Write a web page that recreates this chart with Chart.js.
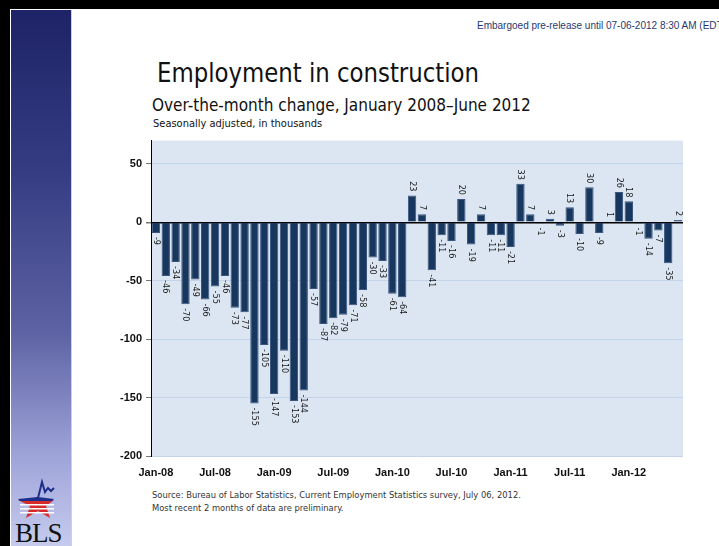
<!DOCTYPE html>
<html>
<head>
<meta charset="utf-8">
<script src="https://cdn.jsdelivr.net/npm/chart.js@4"></script>
<style>
  html, body { margin: 0; padding: 0; background: #fff; }
  #page { position: relative; width: 719px; height: 546px; overflow: hidden; background: #fff; font-family: "Liberation Sans", Arial, sans-serif; }
  #topbar { position: absolute; left: 0; top: 0; width: 719px; height: 9px; background: #000; }
  #leftbar { position: absolute; left: 0; top: 0; width: 10px; height: 546px; background: #000; }
  #side { position: absolute; left: 11px; top: 10px; width: 60px; height: 536px;
    background: linear-gradient(to bottom, #1e2367 0%, #363c82 30%, #5d62a4 60%, #a3a8dc 85%, #c6cbee 100%);
    border-right: 1px solid #c9cdef; }
  .txt { position: absolute; white-space: nowrap; }
  #embargo { left: 477px; top: 20px; font-size: 10px; color: #1f3a70; }
  #title { left: 157px; top: 57px; font-size: 27px; color: #111; font-family: "DejaVu Sans Condensed", sans-serif; transform: scaleX(0.94); transform-origin: left top; }
  #sub { left: 152px; top: 95px; font-size: 17px; color: #111; font-family: "DejaVu Sans Condensed", sans-serif; }
  #unit { left: 153px; top: 117px; font-size: 11px; color: #111; font-family: "DejaVu Sans Condensed", sans-serif; }
  #src { left: 152px; top: 488px; font-size: 9.3px; color: #333; line-height: 13px; font-family: "DejaVu Sans Condensed", sans-serif; }
  #bls { left: 15px; top: 518px; font-size: 27px; color: #111; font-family: "Liberation Serif", serif; letter-spacing: -1px; }
  #star { position: absolute; left: 16px; top: 478px; }
  #wrap { position: absolute; left: 100px; top: 130px; width: 590px; height: 350px; }
</style>
</head>
<body>
<div id="page">
  <div id="topbar"></div>
  <div id="leftbar"></div>
  <div id="side"></div>
  <svg id="star" width="44" height="44" viewBox="0 0 44 44">
    <polyline points="14,22 22,20 26,4 29,14 32,10 35,13 38,10" fill="none" stroke="#1d2f8a" stroke-width="2"/>
    <path d="M2,22 L38,22 L30,28 L34,40 L22,33 L10,40 L14,28 Z" fill="#d42a2a"/>
    <path d="M2,21 L22,19 L38,21 L36,23 L4,23 Z" fill="#1d2f8a"/>
    <rect x="4" y="26" width="34" height="1.5" fill="#fff"/>
    <rect x="4" y="30" width="34" height="1.5" fill="#fff"/>
    <rect x="4" y="34" width="34" height="1.5" fill="#fff"/>
  </svg>
  <div class="txt" id="bls">BLS</div>
  <div class="txt" id="embargo">Embargoed pre-release until 07-06-2012 8:30 AM (EDT)</div>
  <div class="txt" id="title">Employment in construction</div>
  <div class="txt" id="sub">Over-the-month change, January 2008–June 2012</div>
  <div class="txt" id="unit">Seasonally adjusted, in thousands</div>
  <div id="wrap"><canvas id="barChart"></canvas></div>
  <div class="txt" id="src">Source: Bureau of Labor Statistics, Current Employment Statistics survey, July 06, 2012.<br>Most recent 2 months of data are preliminary.</div>
</div>
<script>
const years = ['08', '09', '10', '11', '12'];
const monthNames = ['Jan', 'Feb', 'Mar', 'Apr', 'May', 'Jun', 'Jul', 'Aug', 'Sep', 'Oct', 'Nov', 'Dec'];

const change2008 = [-9, -46, -34, -70, -49, -66, -55, -46, -73, -77, -155, -105];
const change2009 = [-147, -110, -153, -144, -57, -87, -82, -79, -71, -58, -30, -33];
const change2010 = [-61, -64, 23, 7, -41, -11, -16, 20, -19, 7, -11, -11];
const change2011 = [-21, 33, 7, -1, 3, -3, 13, -10, 30, -9, 1, 26];
const change2012 = [18, -1, -14, -7, -35, 2];

const values = [...change2008, ...change2009, ...change2010, ...change2011, ...change2012];
const labels = values.map((v, i) => monthNames[i % 12] + '-' + years[Math.floor(i / 12)]);

// plot background + value labels
const plotBg = {
  id: 'plotBg',
  beforeDraw(chart) {
    const a = chart.chartArea;
    const c = chart.ctx;
    c.save();
    c.fillStyle = '#dce6f2';
    c.fillRect(a.left, a.top, a.right - a.left, a.bottom - a.top);
    c.restore();
  }
};

const valueLabels = {
  id: 'valueLabels',
  afterDatasetsDraw(chart) {
    const c = chart.ctx;
    const meta = chart.getDatasetMeta(0);
    c.save();
    c.font = '9px "DejaVu Sans Condensed", sans-serif';
    c.fillStyle = '#1a1a1a';
    c.textBaseline = 'middle';
    meta.data.forEach((bar, i) => {
      const v = values[i];
      c.save();
      if (v < 0) {
        c.translate(bar.x, bar.y + 4);
        c.rotate(Math.PI / 2);
        c.textAlign = 'left';
      } else {
        c.translate(bar.x, bar.y - 4);
        c.rotate(Math.PI / 2);
        c.textAlign = 'right';
      }
      c.fillText(String(v), 0, 0);
      c.restore();
    });
    c.restore();
  }
};

const ctx = document.querySelector('#barChart').getContext('2d');
const barChart = new Chart(ctx, {
  type: 'bar',
  data: {
    labels: labels,
    datasets: [{
      data: values,
      backgroundColor: '#17375e',
      borderColor: '#3a5680',
      borderWidth: 1,
      barPercentage: 0.85,
      categoryPercentage: 1
    }]
  },
  options: {
    responsive: true,
    maintainAspectRatio: false,
    animation: false,
    layout: { padding: { top: 10, right: 7, left: 0, bottom: 0 } },
    plugins: {
      legend: { display: false },
      tooltip: { enabled: false }
    },
    scales: {
      x: {
        grid: { display: false },
        border: { display: false },
        ticks: {
          autoSkip: false,
          maxRotation: 0,
          color: '#111',
          font: { family: '"Liberation Sans", Arial, sans-serif', size: 11, weight: 'bold' },
          padding: 2,
          callback: function (val, i) { return i % 6 === 0 ? labels[i] : ''; }
        },
        afterFit: s => { s.height = 24; }
      },
      y: {
        min: -200,
        max: 70,
        border: { display: true, color: '#000', width: 1 },
        grid: {
          color: c => c.tick && c.tick.value === 0 ? '#000' : '#c3d4ea',
          lineWidth: c => c.tick && c.tick.value === 0 ? 1.5 : 1,
          tickColor: '#777',
          tickLength: 5
        },
        ticks: {
          stepSize: 50,
          color: '#111',
          padding: 4,
          font: { family: '"Liberation Sans", Arial, sans-serif', size: 11, weight: 'bold' }
        },
        afterBuildTicks: s => { s.ticks = s.ticks.filter(t => t.value % 50 === 0); },
        afterFit: s => { s.width = 51; }
      }
    }
  },
  plugins: [plotBg, valueLabels]
});
</script>
</body>
</html>
